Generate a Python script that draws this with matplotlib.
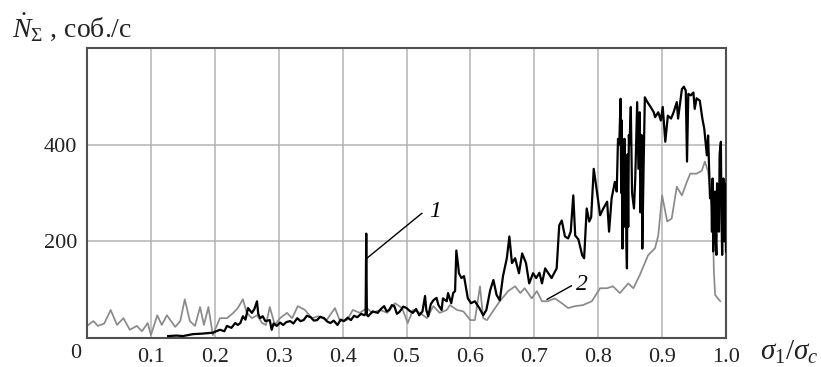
import matplotlib
matplotlib.use("Agg")
import matplotlib.pyplot as plt

plt.rcParams['font.family'] = ['Liberation Serif', 'DejaVu Serif']
plt.rcParams['mathtext.fontset'] = 'custom'
plt.rcParams['mathtext.rm'] = 'Liberation Serif'
plt.rcParams['mathtext.it'] = 'Liberation Serif:italic'
plt.rcParams['mathtext.bf'] = 'Liberation Serif:bold'

# Curve 2 (gray)
x2 = [0, 0.01, 0.017, 0.027, 0.037, 0.047, 0.057, 0.067, 0.078, 0.086, 0.095, 0.10,
      0.11, 0.117, 0.125, 0.138, 0.146, 0.153, 0.161, 0.169, 0.177, 0.183, 0.19, 0.197,
      0.208, 0.219, 0.229, 0.236, 0.244, 0.25, 0.258, 0.266, 0.274, 0.28, 0.286, 0.294,
      0.302, 0.313, 0.321, 0.33, 0.341, 0.352, 0.362, 0.375, 0.388, 0.396, 0.407, 0.416,
      0.427, 0.438, 0.446, 0.459, 0.47, 0.482, 0.493, 0.502, 0.51, 0.521, 0.532, 0.542,
      0.552, 0.563, 0.568, 0.579, 0.589, 0.6, 0.607, 0.615, 0.62, 0.626, 0.635, 0.646,
      0.659, 0.67, 0.678, 0.685, 0.696, 0.704, 0.712, 0.721, 0.732, 0.743, 0.753, 0.764,
      0.776, 0.79, 0.803, 0.814, 0.823, 0.834, 0.847, 0.855, 0.865, 0.878, 0.889, 0.894,
      0.9, 0.908, 0.915, 0.923, 0.931, 0.939, 0.944, 0.954, 0.962, 0.967, 0.972, 0.978,
      0.98, 0.981, 0.983, 0.991]
y2 = [25, 35, 25, 30, 58, 27, 41, 17, 25, 14, 31, 6,
      47, 27, 47, 23, 35, 80, 35, 25, 64, 27, 64, 6,
      41, 41, 52, 62, 80, 52, 41, 47, 31, 27, 64, 27,
      41, 52, 41, 66, 58, 41, 45, 37, 62, 35, 37, 58,
      52, 62, 52, 58, 52, 72, 62, 31, 58, 52, 41, 66,
      52, 58, 68, 58, 55, 37, 37, 107, 41, 37, 55, 76,
      97, 107, 93, 103, 82, 97, 76, 76, 82, 72, 62, 66,
      68, 76, 103, 103, 107, 93, 113, 103, 130, 171, 186, 212,
      295, 241, 247, 313, 295, 324, 340, 340, 346, 365, 344, 268,
      206, 138, 89, 76]

# Curve 1 (black)
x1 = [0.127, 0.14, 0.15, 0.166, 0.18, 0.197, 0.208, 0.215, 0.219, 0.226, 0.232, 0.236,
      0.24, 0.244, 0.248, 0.252, 0.258, 0.262, 0.266, 0.268, 0.271, 0.275, 0.279, 0.286,
      0.289, 0.292, 0.297, 0.302, 0.307, 0.312, 0.318, 0.323, 0.329, 0.334, 0.339, 0.344,
      0.35, 0.355, 0.36, 0.365, 0.371, 0.376, 0.381, 0.386, 0.392, 0.397, 0.402, 0.408,
      0.413, 0.418, 0.423, 0.429, 0.434, 0.436, 0.437, 0.438, 0.44, 0.447, 0.455, 0.46,
      0.465, 0.469, 0.473, 0.477, 0.481, 0.485, 0.489, 0.495, 0.5, 0.505, 0.51, 0.515,
      0.52, 0.525, 0.529, 0.531, 0.534, 0.538, 0.542, 0.547, 0.55, 0.555, 0.557, 0.563,
      0.565, 0.57, 0.573, 0.576, 0.578, 0.581, 0.582, 0.586, 0.59, 0.596, 0.601, 0.607,
      0.614, 0.62, 0.625, 0.631, 0.636, 0.641, 0.646, 0.651, 0.657, 0.661, 0.665, 0.67,
      0.676, 0.681, 0.687, 0.692, 0.698, 0.703, 0.708, 0.712, 0.717, 0.722, 0.727, 0.735,
      0.739, 0.743, 0.748, 0.753, 0.757, 0.761, 0.764, 0.769, 0.775, 0.778, 0.782, 0.786,
      0.789, 0.793, 0.798, 0.803, 0.808, 0.814, 0.817, 0.821, 0.826, 0.829, 0.831, 0.833,
      0.835, 0.836, 0.837, 0.838, 0.839, 0.840, 0.841, 0.842, 0.843, 0.844, 0.845, 0.846,
      0.847, 0.848, 0.849, 0.851, 0.853, 0.856, 0.858, 0.861, 0.863, 0.865, 0.866, 0.867,
      0.868, 0.869, 0.871, 0.873, 0.877, 0.882, 0.887, 0.889, 0.894, 0.898, 0.901, 0.905,
      0.909, 0.914, 0.918, 0.923, 0.925, 0.931, 0.934, 0.937, 0.939, 0.941, 0.945, 0.949,
      0.951, 0.954, 0.959, 0.963, 0.966, 0.97, 0.972, 0.975, 0.977, 0.978, 0.979, 0.98,
      0.981, 0.983, 0.984, 0.985, 0.986, 0.988, 0.989, 0.99, 0.992, 0.993, 0.994, 0.995,
      0.996, 0.997, 0.998, 0.999, 1.0]
y1 = [4, 5, 4, 8, 9, 11, 17, 14, 25, 21, 31, 27,
      31, 45, 38, 62, 52, 60, 76, 50, 41, 45, 35, 37,
      17, 30, 25, 32, 27, 33, 35, 30, 41, 35, 37, 46,
      43, 36, 37, 44, 41, 34, 31, 36, 27, 38, 35, 42,
      37, 46, 43, 50, 47, 50, 216, 48, 45, 55, 52, 60,
      66, 55, 58, 68, 66, 50, 54, 65, 62, 56, 52, 60,
      47, 55, 87, 58, 45, 70, 78, 83, 68, 58, 82, 76,
      93, 72, 93, 97, 181, 148, 134, 124, 128, 82, 72, 76,
      62, 47, 58, 99, 120, 89, 78, 128, 165, 210, 155, 165,
      134, 175, 155, 113, 134, 124, 135, 113, 144, 134, 124, 144,
      233, 243, 210, 206, 220, 295, 212, 204, 171, 165, 268, 241,
      250, 350, 303, 254, 268, 282, 220, 289, 323, 303, 412, 400,
      495, 300, 450, 185, 380, 250, 412, 230, 350, 200, 144, 380,
      230, 420, 400, 478, 300, 268, 330, 488, 350, 467, 260, 300,
      420, 185, 350, 498, 488, 478, 467, 457, 467, 450, 478, 406,
      460, 454, 467, 488, 454, 515, 520, 512, 365, 505, 502, 508,
      474, 496, 491, 454, 433, 378, 419, 289, 303, 220, 330, 179,
      280, 303, 200, 172, 320, 296, 220, 380, 406, 250, 172, 300,
      330, 200, 320, 289, 179]

xticks = [0.1, 0.2, 0.3, 0.4, 0.5, 0.6, 0.7, 0.8, 0.9, 1.0]
xticklabels = ["0.1", "0.2", "0.3", "0.4", "0.5", "0.6", "0.7", "0.8", "0.9", "1.0"]
yticks = [200, 400]
yticklabels = ["200", "400"]

fig = plt.figure(figsize=(8.21, 3.67), dpi=100)
ax = fig.add_axes([87/821, 29/367, 639/821, 290/367])

ax.set_xlim(0, 1.0)
ax.set_ylim(0, 600)

grid_c = '#b4b4b4'
for xv in xticks[:-1]:
    ax.axvline(xv, color=grid_c, lw=1.1, zorder=1)
for yv in yticks:
    ax.axhline(yv, color=grid_c, lw=1.1, zorder=1)

ax.plot(x2, y2, color='#8a8a8a', lw=1.25, zorder=2)
ax.plot(x1, y1, color='black', lw=1.6, zorder=3)

ax.set_xticks(xticks)
ax.set_xticklabels(xticklabels)
ax.set_yticks(yticks)
ax.set_yticklabels(yticklabels)
ax.tick_params(length=0, labelsize=16, pad=7, colors='#222222')
for s in ax.spines.values():
    s.set_color('#505050')
    s.set_linewidth(1.5)

# corner zero
fig.text(76/821, 1 - 354/367, "0", ha='center', va='center',
         fontsize=16, color='#222222')

# annotations
ax.plot([0.438, 0.524], [165, 258], color='black', lw=1.0, zorder=4)
ax.text(0.535, 262, "1", fontsize=17, style='italic', ha='left', va='center')
ax.plot([0.72, 0.758], [80, 108], color='black', lw=1.0, zorder=4)
ax.text(0.766, 110, "2", fontsize=17, style='italic', ha='left', va='center')

# axis labels
fig.text(12/821, 1 - 37/367, r"$\dot{N}_{\Sigma}$ , соб./с", fontsize=20,
         ha='left', va='baseline', color='#222222')
fig.text(760/821, 1 - 352/367, r"$\sigma_1/\sigma_c$", fontsize=21,
         ha='left', va='center', color='#222222')

fig.savefig("out.png", dpi=100)
